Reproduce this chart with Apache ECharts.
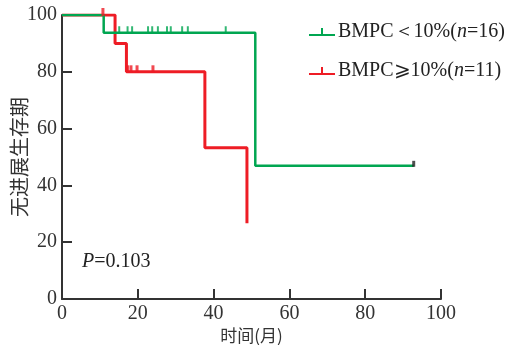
<!DOCTYPE html>
<html><head><meta charset="utf-8">
<script src="https://cdn.jsdelivr.net/npm/echarts@6/dist/echarts.min.js"></script>
<style>html,body{margin:0;padding:0;background:#fff}#c{width:511px;height:345px}</style>
</head><body><div id="c"></div>
<script>
// Kaplan-Meier step data [time (months), survival (%)]
var greenSteps = [[0,100],[11,93.75],[51,46.9],[92.8,46.9]];
var redSteps = [[0,100],[14,90],[17,80],[37.7,53.3],[48.8,26.7]];
var greenCensorTimes = [15.1,17.3,18.5,22.7,23.8,25.3,27.7,28.7,31.7,33.2,43.2];
var greenCensorValue = 93.75;
var greenEnd = [[92.8,46.9]];
var redCensorTop = [[10.8,100]];
var redCensorTimes = [17.3,18.2,19.8,24];
var redCensorValue = 80;
var xTicks = [0,20,40,60,80,100];
var yTicks = [0,20,40,60,80,100];
var legendNames = ['BMPC＜10%(n=16)','BMPC⩾10%(n=11)'];

var GREEN = '#00a651', RED = '#ee1c25';
var serif = '"Liberation Serif","DejaVu Serif",serif';
var cjk = '"Noto Sans CJK SC",sans-serif';
var chart = echarts.init(document.getElementById('c'));
var tickIcon = 'path://M0,6 L26,6 L26,8 L0,8 Z M12,0 L14,0 L14,8 L12,8 Z';
chart.setOption({
  animation:false,
  grid:{left:62,right:70,top:15,bottom:46,outerBoundsMode:'none',containLabel:false},
  xAxis:{type:'value',min:0,max:100,interval:20,
    name:'时间(月)',nameLocation:'middle',nameGap:28,nameMoveOverlap:false,
    nameTextStyle:{fontFamily:cjk,fontSize:17,color:'#333',verticalAlign:'top'},
    axisLine:{lineStyle:{color:'#333',width:2}},
    axisTick:{inside:true,length:10,lineStyle:{color:'#333',width:2}},
    axisLabel:{fontFamily:serif,fontSize:20,color:'#333',margin:5,
      formatter:function(v){return xTicks.indexOf(v)>=0?String(v):'';}},
    splitLine:{show:false}},
  yAxis:{type:'value',min:0,max:100,interval:20,
    name:'无进展生存期',nameLocation:'middle',nameGap:33,nameRotate:90,nameMoveOverlap:false,
    nameTextStyle:{fontFamily:cjk,fontSize:20,color:'#333'},
    axisLine:{show:true,lineStyle:{color:'#333',width:2}},
    axisTick:{show:true,inside:true,length:10,lineStyle:{color:'#333',width:2}},
    axisLabel:{fontFamily:serif,fontSize:20,color:'#333',margin:5,
      formatter:function(v){return yTicks.indexOf(v)>=0?String(v):'';}},
    splitLine:{show:false}},
  legend:{orient:'vertical',left:304,top:17,itemWidth:26,itemHeight:8,itemGap:19,
    data:[{name:legendNames[0],icon:tickIcon,itemStyle:{color:GREEN}},
          {name:legendNames[1],icon:tickIcon,itemStyle:{color:RED}}],
    formatter:function(n){
      var m = n.match(/^(.*\()n(=.*)$/);
      return '{a|'+m[1]+'}{i|n}{a|'+m[2]+'}';
    },
    textStyle:{fontFamily:serif,fontSize:20,color:'#222',padding:[0,0,0,-2],
      rich:{a:{fontFamily:serif,fontSize:20,color:'#222'},
            i:{fontFamily:serif,fontSize:20,fontStyle:'italic',color:'#222'}}}},
  graphic:[{type:'text',left:82,top:252,
    style:{rich:{p:{fontFamily:serif,fontSize:20,fontStyle:'italic',fill:'#222'},
                 v:{fontFamily:serif,fontSize:20,fill:'#222'}},
      text:'{p|P}{v|=0.103}'}}],
  series:[
    {name:legendNames[1],type:'line',step:'end',data:redSteps,symbol:'none',
     lineStyle:{color:RED,width:3},itemStyle:{color:RED},z:3},
    {name:legendNames[0],type:'line',step:'end',data:greenSteps,symbol:'none',
     lineStyle:{color:GREEN,width:2.5},itemStyle:{color:GREEN},z:4},
    {type:'scatter',data:greenCensorTimes.map(function(t){return [t,greenCensorValue];}),
     symbol:'rect',symbolSize:[2,7],symbolOffset:[0,-3],itemStyle:{color:GREEN},z:5},
    {type:'scatter',data:greenEnd,symbol:'rect',symbolSize:[3,6],symbolOffset:[0,-2],
     itemStyle:{color:'#222'},z:6},
    {type:'scatter',data:redCensorTop,symbol:'rect',symbolSize:[3,8],symbolOffset:[0,-3],
     itemStyle:{color:RED},z:6},
    {type:'scatter',data:redCensorTimes.map(function(t){return [t,redCensorValue];}),
     symbol:'rect',symbolSize:[3,7],symbolOffset:[0,-3],itemStyle:{color:RED},z:6}
  ]
});
</script></body></html>
